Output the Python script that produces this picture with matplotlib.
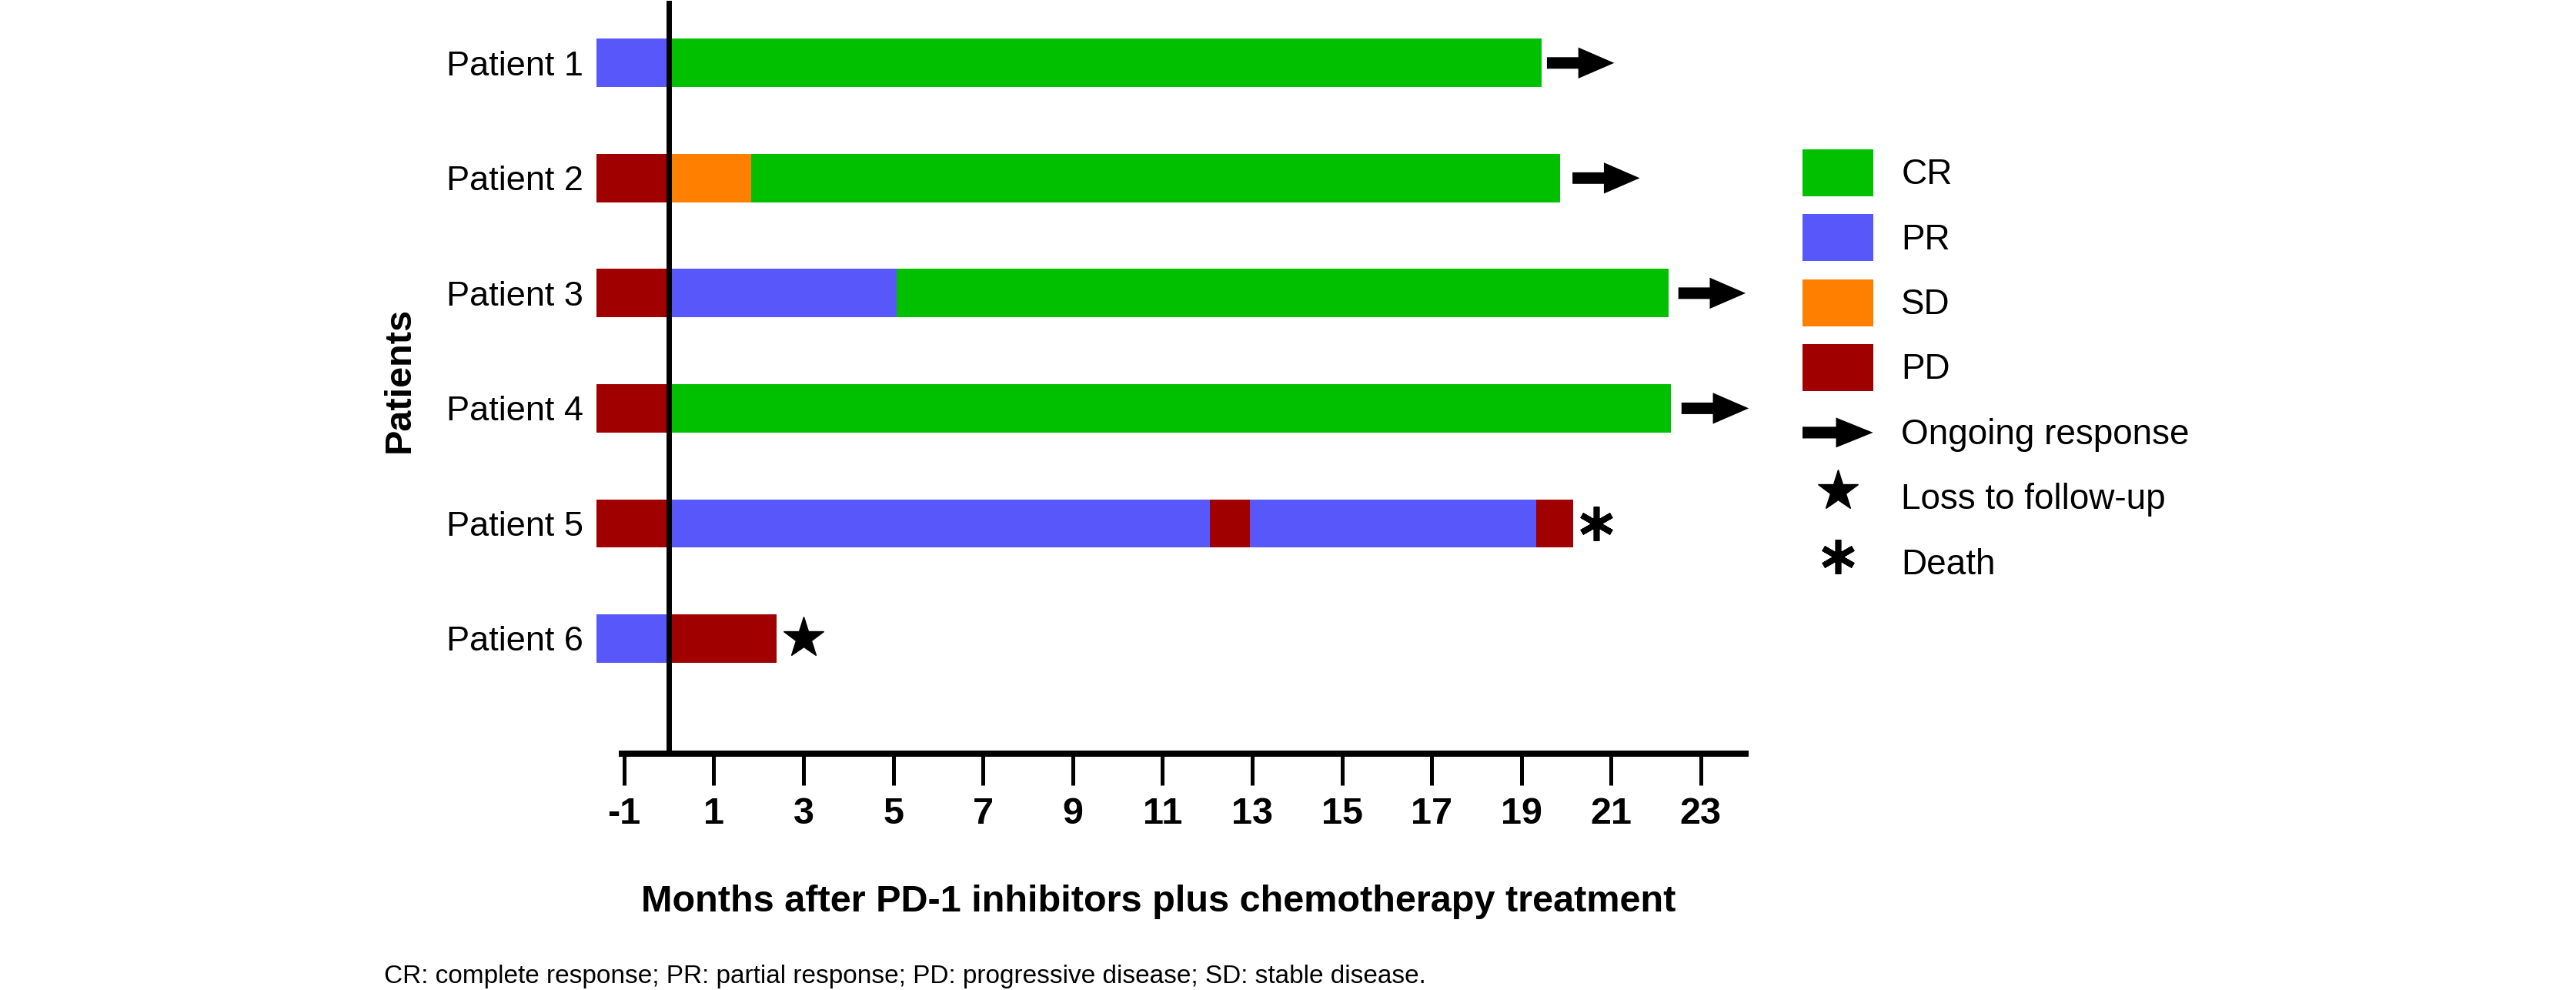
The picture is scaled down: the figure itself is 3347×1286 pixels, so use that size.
import matplotlib
matplotlib.use("Agg")
import matplotlib.pyplot as plt
from matplotlib.patches import Patch, FancyArrow
from matplotlib.lines import Line2D
from matplotlib.legend_handler import HandlerPatch

plt.rcParams["font.family"] = "Liberation Sans"
plt.rcParams["axes.unicode_minus"] = False

# data (months)
patients = ["Patient 1", "Patient 2", "Patient 3", "Patient 4", "Patient 5", "Patient 6"]
seg_starts = [
    [-1.62, 0.0],
    [-1.62, 0.0, 1.84],
    [-1.62, 0.0, 5.08],
    [-1.62, 0.0],
    [-1.62, 0.0, 12.05, 12.95, 19.33],
    [-1.62, 0.0],
]
seg_ends = [
    [0.0, 19.45],
    [0.0, 1.84, 19.87],
    [0.0, 5.08, 22.28],
    [0.0, 22.34],
    [0.0, 12.05, 12.95, 19.33, 20.16],
    [0.0, 2.40],
]
seg_status = [
    ["PR", "CR"],
    ["PD", "SD", "CR"],
    ["PD", "PR", "CR"],
    ["PD", "CR"],
    ["PD", "PR", "PD", "PR", "PD"],
    ["PR", "PD"],
]

ongoing_patients = [1, 2, 3, 4]
ongoing_x = [19.57, 20.14, 22.50, 22.57]
death_patients = [5]
death_x = [20.67]
lost_patients = [6]
lost_x = [3.0]

status_order = ["CR", "PR", "SD", "PD"]
status_colors = {"CR": "#00C000", "PR": "#5858FA", "SD": "#FF8000", "PD": "#A00000"}
xticks = list(range(-1, 24, 2))

fig = plt.figure(figsize=(33.48, 12.86), dpi=100)
ax = fig.add_axes([0.2300, 0.2387, 0.4492, 0.7605])

for i, name in enumerate(patients):
    y = i + 1
    for start, end, status in zip(seg_starts[i], seg_ends[i], seg_status[i]):
        ax.barh(y, end - start, left=start, height=0.42,
                color=status_colors[status], linewidth=0)

# ongoing response arrows
for p, x in zip(ongoing_patients, ongoing_x):
    ax.add_patch(FancyArrow(x, p, 1.5, 0, width=0.10, head_width=0.27,
                            head_length=0.8, length_includes_head=True,
                            color="black", linewidth=0))

ax.plot(death_x, death_patients, linestyle="none", marker=(6, 2, 0),
        markersize=32, markeredgewidth=5.5, color="black")
ax.plot(lost_x, lost_patients, linestyle="none", marker="*",
        markersize=40, color="black")

ax.axvline(0, color="black", linewidth=5)

ax.set_xlim(-1.7, 24.1)
ax.set_ylim(7.0, 0.46)
ax.set_yticks(range(1, len(patients) + 1))
ax.set_yticklabels(patients, fontsize=32.5)
ax.tick_params(axis="y", length=0, pad=9)
ax.set_xticks(xticks)
ax.set_xticklabels([str(t) for t in xticks], fontsize=35, fontweight="bold")
ax.tick_params(axis="x", length=29.5, width=3.6, pad=11)

for side in ["top", "right", "left"]:
    ax.spines[side].set_visible(False)
ax.spines["bottom"].set_linewidth(5.8)
ax.spines["bottom"].set_bounds(-1.05, 24.0)

ax.set_xlabel("Months after PD-1 inhibitors plus chemotherapy treatment",
              fontsize=35, fontweight="bold")
ax.xaxis.set_label_coords(0.4887, -0.174)
ax.set_ylabel("Patients", fontsize=35, fontweight="bold")
ax.yaxis.set_label_coords(-0.152, 0.497)


def make_arrow(legend, orig_handle, xdescent, ydescent, width, height, fontsize):
    return FancyArrow(-xdescent, -ydescent + height / 2, width, 0,
                      width=0.33 * fontsize, head_width=0.85 * fontsize,
                      head_length=1.05 * fontsize, length_includes_head=True)


arrow_handle = FancyArrow(0, 0, 1, 0, color="black", linewidth=0)
handles = [Patch(color=status_colors[s], linewidth=0) for s in status_order]
handles += [
    arrow_handle,
    Line2D([], [], linestyle="none", marker="*", markersize=40, color="black"),
    Line2D([], [], linestyle="none", marker=(6, 2, 0), markersize=32,
           markeredgewidth=5.5, color="black"),
]
labels = status_order + ["Ongoing response", "Loss to follow-up", "Death"]
fig.legend(handles, labels, loc="upper left",
           bbox_to_anchor=(2342 / 3348, 1 - 194 / 1286),
           frameon=False, borderpad=0, borderaxespad=0, fontsize=33,
           handlelength=2.0, handleheight=1.67, handletextpad=0.8,
           labelspacing=0.51,
           handler_map={arrow_handle: HandlerPatch(patch_func=make_arrow)})

fig.text(499 / 3348, 1 - 1277 / 1286,
         "CR: complete response; PR: partial response; PD: progressive disease; SD: stable disease.",
         fontsize=24, va="baseline", ha="left")

fig.savefig("out.png", dpi=100)
